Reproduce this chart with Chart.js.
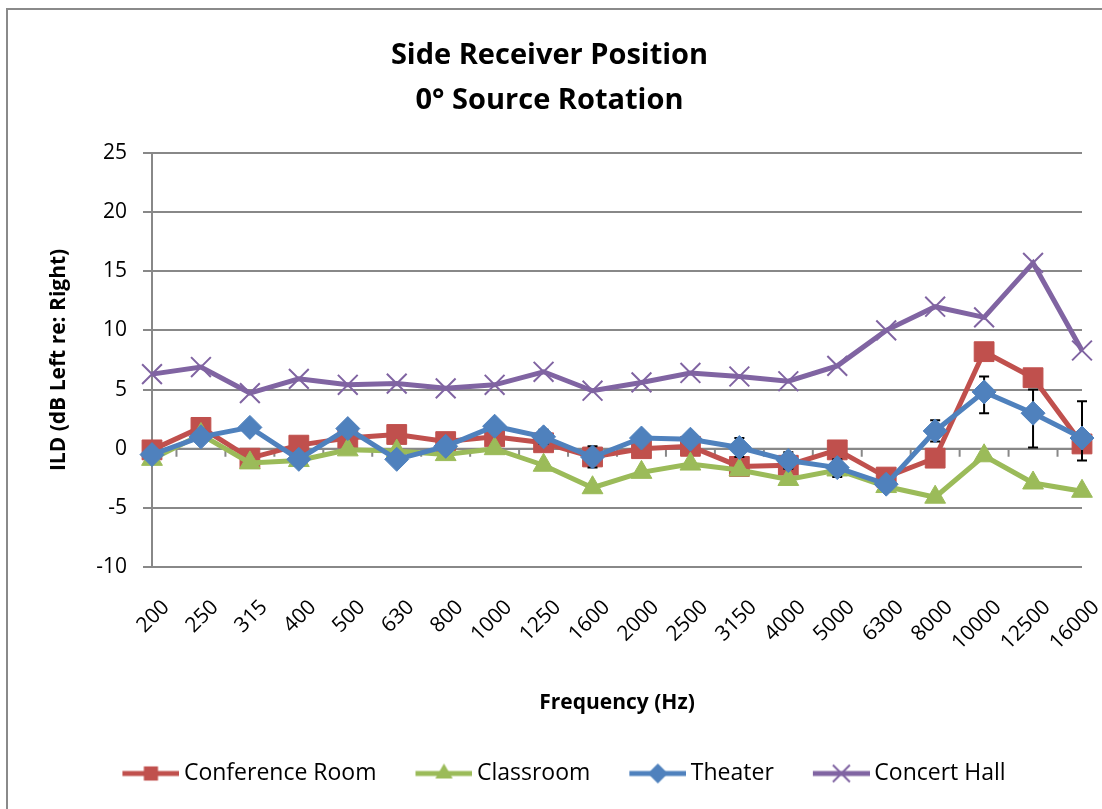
<!DOCTYPE html>
<html>
<head>
<meta charset="utf-8">
<script src="https://cdn.jsdelivr.net/npm/chart.js@4.4.0/dist/chart.umd.min.js"></script>
<style>
  html, body { margin: 0; padding: 0; background: #fff; overflow: hidden; }
  #frame { position: absolute; left: 6px; top: 8px; width: 1200px; height: 900px; border: 2px solid #8a8a8a; }
  #wrap { position: absolute; left: 0; top: 0; width: 1102px; height: 809px; }
</style>
</head>
<body>
<div id="frame"></div>
<div id="wrap"><canvas id="ildChart" width="1102" height="809"></canvas></div>
<script>
// frequency bands (Hz)
const frequencies = ['200', '250', '315', '400', '500', '630', '800', '1000', '1250', '1600',
    '2000', '2500', '3150', '4000', '5000', '6300', '8000', '10000', '12500', '16000'];

// ILD values (dB, left re: right)
const conferenceRoom = [-0.1, 1.8, -0.8, 0.3, 0.9, 1.2, 0.6, 1.0, 0.5, -0.7, 0.0, 0.2, -1.5, -1.4, -0.1, -2.4, -0.8, 8.2, 6.0, 0.4];
const classroom = [-0.9, 1.2, -1.2, -1.0, -0.1, -0.2, -0.5, 0.0, -1.4, -3.3, -2.0, -1.3, -1.8, -2.6, -1.8, -3.2, -4.1, -0.6, -2.9, -3.6];
const theater = [-0.5, 1.0, 1.8, -0.9, 1.7, -0.9, 0.2, 1.9, 1.0, -0.7, 0.9, 0.8, 0.1, -1.0, -1.6, -3.0, 1.5, 4.8, 3.0, 0.9];
const concertHall = [6.3, 6.9, 4.7, 5.9, 5.4, 5.5, 5.1, 5.4, 6.5, 4.9, 5.6, 6.4, 6.1, 5.7, 7.0, 10.0, 12.0, 11.1, 15.7, 8.3];

// error bars on the Theater series
const theaterErrPlus = [0.4, 0.4, 0.4, 0.4, 0.4, 0.4, 0.4, 0.4, 0.6, 0.9, 0.4, 0.4, 0.8, 0.7, 0.7, 0.4, 0.9, 1.3, 2.0, 3.1];
const theaterErrMinus = [0.4, 0.4, 0.4, 0.4, 0.4, 0.4, 0.4, 0.4, 0.6, 0.9, 0.4, 0.4, 0.8, 0.7, 0.8, 0.4, 0.9, 1.8, 2.9, 1.9];

const yTicks = [-10, -5, 0, 5, 10, 15, 20, 25];

const FONT = '"Open Sans", Lato, sans-serif';
const RED = '#C0504D', GREEN = '#9BBB59', BLUE = '#4F81BD', PURPLE = '#8064A2';

// marker drawing for the legend icons
function drawMarker(ctx, style, x, y, r, color) {
    ctx.fillStyle = color;
    ctx.strokeStyle = color;
    ctx.beginPath();
    if (style === 'rect') {
        const s = r * Math.SQRT1_2;
        ctx.rect(x - s, y - s, 2 * s, 2 * s);
        ctx.fill();
    } else if (style === 'triangle') {
        ctx.moveTo(x, y - r);
        ctx.lineTo(x + r * 0.866, y + r * 0.5);
        ctx.lineTo(x - r * 0.866, y + r * 0.5);
        ctx.closePath();
        ctx.fill();
    } else if (style === 'rectRot') {
        ctx.moveTo(x, y - r);
        ctx.lineTo(x + r, y);
        ctx.lineTo(x, y + r);
        ctx.lineTo(x - r, y);
        ctx.closePath();
        ctx.fill();
    } else {
        const d = r * Math.SQRT1_2;
        ctx.lineWidth = 2;
        ctx.moveTo(x - d, y - d); ctx.lineTo(x + d, y + d);
        ctx.moveTo(x + d, y - d); ctx.lineTo(x - d, y + d);
        ctx.stroke();
    }
}

// icon is wider than the legend box so the text sits close to the line
function legendIcon(style, color, r) {
    const c = document.createElement('canvas');
    c.width = 93; c.height = 26;
    const g = c.getContext('2d');
    g.strokeStyle = color;
    g.lineWidth = 5;
    g.beginPath();
    g.moveTo(36, 13); g.lineTo(93, 13);
    g.stroke();
    drawMarker(g, style, 64.5, 13, r, color);
    return c;
}

function series(label, data, color, style, radius, order) {
    return {
        label: label,
        data: data,
        borderColor: color,
        backgroundColor: color,
        borderWidth: 5,
        pointStyle: style,
        pointRadius: radius,
        pointHoverRadius: radius,
        pointBorderWidth: style === 'crossRot' ? 2 : 1,
        pointBorderColor: color,
        pointBackgroundColor: color,
        tension: 0,
        order: order,
        icon: legendIcon(style, color, style === 'crossRot' ? 12 : 10)
    };
}

const datasets = [
    series('Conference Room', conferenceRoom, RED, 'rect', 14, 4),
    series('Classroom', classroom, GREEN, 'triangle', 12, 3),
    series('Theater', theater, BLUE, 'rectRot', 12, 2),
    series('Concert Hall', concertHall, PURPLE, 'crossRot', 14, 1)
];

// horizontal axis crosses at 0, with tick marks between categories
const zeroAxis = {
    id: 'zeroAxis',
    beforeDatasetsDraw(chart) {
        const x = chart.scales.x, y = chart.scales.y, ctx = chart.ctx;
        const y0 = y.getPixelForValue(0);
        const step = x.getPixelForValue(1) - x.getPixelForValue(0);
        ctx.save();
        ctx.strokeStyle = '#888';
        ctx.lineWidth = 2;
        ctx.beginPath();
        ctx.moveTo(chart.chartArea.left, y0);
        ctx.lineTo(chart.chartArea.right, y0);
        for (let i = 1; i < frequencies.length; i++) {
            const px = x.getPixelForValue(i) - step / 2;
            ctx.moveTo(px, y0);
            ctx.lineTo(px, y0 + 8);
        }
        ctx.stroke();
        ctx.restore();
    }
};

// error bars for Theater, drawn under its line and markers
const errorBars = {
    id: 'errorBars',
    beforeDatasetDraw(chart, args) {
        if (args.index !== 2) return;
        const x = chart.scales.x, y = chart.scales.y, ctx = chart.ctx;
        ctx.save();
        ctx.strokeStyle = '#000';
        ctx.lineWidth = 2;
        ctx.beginPath();
        theater.forEach((v, i) => {
            const px = x.getPixelForValue(i);
            const top = y.getPixelForValue(v + theaterErrPlus[i]);
            const bot = y.getPixelForValue(v - theaterErrMinus[i]);
            ctx.moveTo(px, top); ctx.lineTo(px, bot);
            ctx.moveTo(px - 5, top); ctx.lineTo(px + 5, top);
            ctx.moveTo(px - 5, bot); ctx.lineTo(px + 5, bot);
        });
        ctx.stroke();
        ctx.restore();
    }
};

const ctx = document.getElementById('ildChart').getContext('2d');
new Chart(ctx, {
    type: 'line',
    data: { labels: frequencies, datasets: datasets },
    plugins: [zeroAxis, errorBars],
    options: {
        responsive: false,
        animation: false,
        layout: { padding: { left: 17, right: 20, top: 0, bottom: 14 } },
        plugins: {
            tooltip: { enabled: false },
            title: {
                display: true,
                text: ['Side Receiver Position', '0° Source Rotation'],
                color: '#000',
                font: { family: FONT, size: 29, weight: 'bold', lineHeight: 1.55 },
                padding: { top: 33, bottom: 30 }
            },
            legend: {
                position: 'bottom',
                labels: {
                    usePointStyle: true,
                    pointStyleWidth: 79,
                    boxHeight: 22,
                    padding: 10,
                    color: '#000',
                    font: { family: FONT, size: 23 },
                    generateLabels(chart) {
                        return chart.data.datasets.map((ds, i) => ({
                            text: ds.label,
                            pointStyle: ds.icon,
                            fillStyle: ds.borderColor,
                            strokeStyle: ds.borderColor,
                            lineWidth: 0,
                            fontColor: '#000',
                            hidden: !chart.isDatasetVisible(i),
                            datasetIndex: i
                        }));
                    }
                }
            }
        },
        scales: {
            x: {
                grid: { display: false, drawTicks: false },
                border: { display: false },
                afterFit(scale) {
                    scale.height = 185;
                    scale.paddingLeft = 0;
                    scale.paddingRight = 0;
                },
                ticks: {
                    color: '#000',
                    font: { family: FONT, size: 21 },
                    maxRotation: 45,
                    minRotation: 45,
                    labelOffset: 14,
                    padding: 28
                },
                title: {
                    display: true,
                    text: 'Frequency (Hz)',
                    color: '#000',
                    font: { family: FONT, size: 21, weight: 'bold' },
                    padding: { top: 20, bottom: 36 }
                }
            },
            y: {
                min: -10,
                max: 25,
                afterBuildTicks(scale) {
                    scale.ticks = yTicks.map(v => ({ value: v }));
                },
                afterFit(scale) {
                    scale.width = 135;
                },
                grid: { color: '#888', lineWidth: 2, tickLength: 9, tickColor: '#888' },
                border: { color: '#888', width: 2 },
                ticks: {
                    color: '#000',
                    font: { family: FONT, size: 21 },
                    padding: 16
                },
                title: {
                    display: true,
                    text: 'ILD (dB Left re: Right)',
                    color: '#000',
                    font: { family: FONT, size: 21, weight: 'bold' },
                    padding: { top: 29, bottom: 29 }
                }
            }
        }
    }
});
</script>
</body>
</html>
